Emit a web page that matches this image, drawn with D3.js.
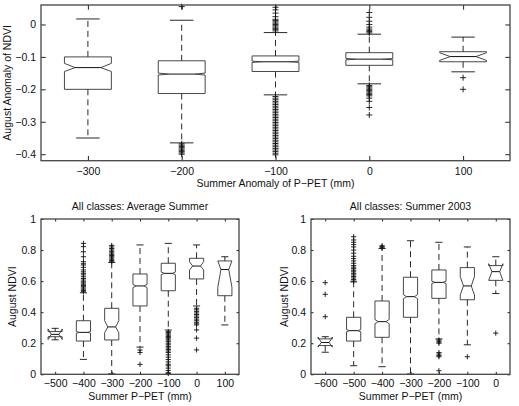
<!DOCTYPE html>
<html>
<head>
<meta charset="utf-8">
<script src="https://cdn.jsdelivr.net/npm/d3@7"></script>
<style>
body { margin: 0; background: #fff; }
svg { display: block; font-family: "Liberation Sans", Arial, sans-serif; }
</style>
</head>
<body>
<div id="chart"></div>
<script>
// top panel: August NDVI anomaly vs summer P-PET anomaly
var topPositions = [-300, -200, -100, 0, 100];
var topQ1 = [-0.200, -0.213, -0.145, -0.126, -0.115];
var topMedian = [-0.133, -0.153, -0.115, -0.107, -0.099];
var topQ3 = [-0.100, -0.112, -0.097, -0.087, -0.084];
var topNotchLo = [-0.145, -0.156, -0.117, -0.109, -0.111];
var topNotchHi = [-0.120, -0.150, -0.113, -0.105, -0.087];
var topWhiskerLo = [-0.350, -0.365, -0.217, -0.183, -0.146];
var topWhiskerHi = [0.017, 0.013, -0.025, -0.030, -0.039];
var topOutliers = [
    [],
    [0.055, -0.368, -0.372, -0.376, -0.380, -0.384, -0.388, -0.392, -0.396, -0.400],
    [0.053, 0.045, 0.035, 0.024, 0.016, 0.012, 0.008, 0.004, 0.000, -0.004, -0.008, -0.012, -0.016, -0.020,
     -0.222, -0.227, -0.232, -0.237, -0.242, -0.247, -0.252, -0.257, -0.262, -0.267, -0.272, -0.277,
     -0.282, -0.287, -0.292, -0.297, -0.302, -0.307, -0.312, -0.317, -0.322, -0.327, -0.332, -0.337,
     -0.342, -0.347, -0.352, -0.357, -0.362, -0.367, -0.372, -0.377, -0.382, -0.387, -0.392, -0.397, -0.402],
    [0.037, 0.022, 0.010, 0.000, -0.008, -0.014, -0.018, -0.022, -0.026,
     -0.188, -0.192, -0.196, -0.200, -0.204, -0.208, -0.212, -0.216, -0.220, -0.227, -0.237, -0.256, -0.279],
    [-0.164, -0.200]
];
var topXTicks = [-300, -200, -100, 0, 100];
var topYTicks = [-0.4, -0.3, -0.2, -0.1, 0];

// bottom left: average summer
var avgPositions = [-500, -400, -300, -200, -100, 0, 100];
var avgQ1 = [0.242, 0.214, 0.221, 0.440, 0.538, 0.614, 0.506];
var avgMedian = [0.257, 0.270, 0.305, 0.569, 0.650, 0.697, 0.675];
var avgQ3 = [0.275, 0.345, 0.425, 0.646, 0.715, 0.747, 0.730];
var avgNotchLo = [0.224, 0.265, 0.268, 0.559, 0.642, 0.672, 0.560];
var avgNotchHi = [0.292, 0.275, 0.345, 0.579, 0.658, 0.725, 0.730];
var avgWhiskerLo = [0.222, 0.096, 0.003, 0.175, 0.285, 0.440, 0.318];
var avgWhiskerHi = [0.296, 0.525, 0.720, 0.833, 0.843, 0.833, 0.757];
var avgOutliers = [
    [],
    [0.532, 0.540, 0.548, 0.556, 0.564, 0.572, 0.580, 0.588, 0.596, 0.607, 0.617, 0.628, 0.640, 0.650,
     0.660, 0.672, 0.689, 0.704, 0.712, 0.725, 0.757, 0.789, 0.822, 0.843],
    [0.725, 0.733, 0.741, 0.749, 0.757, 0.765, 0.773, 0.781, 0.790, 0.800, 0.810, 0.820, 0.830],
    [0.156, 0.140, 0.064],
    [0.275, 0.268, 0.260, 0.252, 0.244, 0.236, 0.228, 0.220, 0.210, 0.200, 0.190, 0.180, 0.170, 0.160,
     0.150, 0.140, 0.125, 0.110, 0.095, 0.080, 0.065, 0.055, 0.040, 0.025, 0.010, 0.005],
    [0.425, 0.415, 0.405, 0.395, 0.385, 0.375, 0.365, 0.355, 0.345, 0.335, 0.325, 0.318, 0.286, 0.233, 0.157],
    []
];
var avgXTicks = [-500, -400, -300, -200, -100, 0, 100];

// bottom right: summer 2003
var s03Positions = [-600, -500, -400, -300, -200, -100, 0];
var s03Q1 = [0.185, 0.214, 0.238, 0.367, 0.489, 0.480, 0.605];
var s03Median = [0.205, 0.281, 0.339, 0.500, 0.592, 0.569, 0.661];
var s03Q3 = [0.228, 0.367, 0.472, 0.625, 0.672, 0.687, 0.700];
var s03NotchLo = [0.175, 0.274, 0.325, 0.487, 0.585, 0.511, 0.605];
var s03NotchHi = [0.240, 0.288, 0.353, 0.513, 0.599, 0.629, 0.712];
var s03WhiskerLo = [0.142, 0.055, 0.049, 0.002, 0.228, 0.190, 0.520];
var s03WhiskerHi = [0.242, 0.595, 0.810, 0.860, 0.850, 0.820, 0.757];
var s03Outliers = [
    [0.590, 0.515, 0.371],
    [0.600, 0.610, 0.620, 0.630, 0.640, 0.650, 0.660, 0.670, 0.680, 0.690, 0.700, 0.715, 0.730, 0.745,
     0.760, 0.780, 0.800, 0.820, 0.835, 0.850, 0.865, 0.886],
    [0.815, 0.822, 0.828],
    [],
    [0.221, 0.214, 0.207, 0.200, 0.140, 0.130, 0.120, 0.113, 0.023],
    [0.113],
    [0.265]
];
var s03XTicks = [-600, -500, -400, -300, -200, -100, 0];
var ndviTicks = [0, 0.2, 0.4, 0.6, 0.8, 1];

var svg = d3.select("#chart").append("svg")
    .attr("width", 519)
    .attr("height", 406);

var fontSize = 10.5;
var fmt = d3.format("");

function makeBoxes(pos, q1, med, q3, nlo, nhi, wlo, whi, outl) {
    return pos.map(function (p, i) {
        return {pos: p, q1: q1[i], med: med[i], q3: q3[i], nlo: nlo[i], nhi: nhi[i],
                wlo: wlo[i], whi: whi[i], out: outl[i]};
    });
}

function drawPanel(o) {
    var g = svg.append("g");
    var x = d3.scaleLinear().domain(o.xDomain).range([o.left, o.right]);
    var y = d3.scaleLinear().domain(o.yDomain).range([o.bottom, o.top]);
    var hw = (x(o.boxWidth) - x(0)) / 2;
    var inset = hw * 0.45;

    // axes with inner ticks on all four sides
    function styleAxis(a) {
        a.select(".domain").remove();
        a.attr("font-size", fontSize).attr("font-family", null);
        a.selectAll(".tick line").attr("stroke", "#222");
        a.selectAll(".tick text").attr("fill", "#111");
    }
    g.append("g").attr("transform", "translate(0," + o.bottom + ")")
        .call(d3.axisBottom(x).tickValues(o.xTicks).tickSizeInner(-o.tickLen).tickSizeOuter(0)
            .tickPadding(o.xPad).tickFormat(fmt))
        .call(styleAxis);
    g.append("g").attr("transform", "translate(0," + o.top + ")")
        .call(d3.axisTop(x).tickValues(o.xTicks).tickSizeInner(-o.tickLen).tickSizeOuter(0).tickFormat(""))
        .call(styleAxis);
    g.append("g").attr("transform", "translate(" + o.left + ",0)")
        .call(d3.axisLeft(y).tickValues(o.yTicks).tickSizeInner(-o.tickLen).tickSizeOuter(0)
            .tickPadding(5).tickFormat(fmt))
        .call(styleAxis);
    g.append("g").attr("transform", "translate(" + o.right + ",0)")
        .call(d3.axisRight(y).tickValues(o.yTicks).tickSizeInner(-o.tickLen).tickSizeOuter(0).tickFormat(""))
        .call(styleAxis);

    var boxes = g.selectAll(".bx").data(o.boxes).enter().append("g").attr("class", "bx");

    // whiskers (dashed)
    boxes.append("line")
        .attr("x1", function (d) { return x(d.pos); })
        .attr("x2", function (d) { return x(d.pos); })
        .attr("y1", function (d) { return y(d.q3); })
        .attr("y2", function (d) { return y(d.whi); })
        .attr("stroke", "#111").attr("stroke-width", 0.9).attr("stroke-dasharray", "6,4");
    boxes.append("line")
        .attr("x1", function (d) { return x(d.pos); })
        .attr("x2", function (d) { return x(d.pos); })
        .attr("y1", function (d) { return y(d.q1); })
        .attr("y2", function (d) { return y(d.wlo); })
        .attr("stroke", "#111").attr("stroke-width", 0.9).attr("stroke-dasharray", "6,4");

    // whisker caps
    ["whi", "wlo"].forEach(function (k) {
        boxes.append("line")
            .attr("x1", function (d) { return x(d.pos) - hw / 2; })
            .attr("x2", function (d) { return x(d.pos) + hw / 2; })
            .attr("y1", function (d) { return y(d[k]); })
            .attr("y2", function (d) { return y(d[k]); })
            .attr("stroke", "#111").attr("stroke-width", 0.9);
    });

    // notched box outline
    boxes.append("path")
        .attr("d", function (d) {
            var xl = x(d.pos) - hw, xr = x(d.pos) + hw;
            var pts = [[xl, y(d.q1)], [xl, y(d.nlo)], [xl + inset, y(d.med)], [xl, y(d.nhi)], [xl, y(d.q3)],
                       [xr, y(d.q3)], [xr, y(d.nhi)], [xr - inset, y(d.med)], [xr, y(d.nlo)], [xr, y(d.q1)]];
            return d3.line()(pts) + "Z";
        })
        .attr("fill", "none").attr("stroke", "#333").attr("stroke-width", 0.9);

    // median
    boxes.append("line")
        .attr("x1", function (d) { return x(d.pos) - hw + inset; })
        .attr("x2", function (d) { return x(d.pos) + hw - inset; })
        .attr("y1", function (d) { return y(d.med); })
        .attr("y2", function (d) { return y(d.med); })
        .attr("stroke", "#111").attr("stroke-width", 1);

    // outliers as plus marks
    var s = o.plus;
    boxes.append("path")
        .attr("d", function (d) {
            var cx = x(d.pos);
            return d.out.map(function (v) {
                var cy = y(v);
                return "M" + (cx - s) + "," + cy + "H" + (cx + s) + "M" + cx + "," + (cy - s) + "V" + (cy + s);
            }).join("");
        })
        .attr("fill", "none").attr("stroke", "#111").attr("stroke-width", 0.9);

    // frame
    g.append("rect")
        .attr("x", o.left).attr("y", o.top)
        .attr("width", o.right - o.left).attr("height", o.bottom - o.top)
        .attr("fill", "none").attr("stroke", "#444").attr("stroke-width", 1.3);

    // labels
    var cxm = (o.left + o.right) / 2;
    g.append("text").attr("x", cxm).attr("y", o.xLabelY)
        .attr("text-anchor", "middle").attr("font-size", fontSize).attr("fill", "#111")
        .text(o.xLabel);
    g.append("text")
        .attr("transform", "translate(" + o.yLabelX + "," + ((o.top + o.bottom) / 2) + ") rotate(-90)")
        .attr("text-anchor", "middle").attr("font-size", fontSize).attr("fill", "#111")
        .text(o.yLabel);
    if (o.title) {
        g.append("text").attr("x", cxm).attr("y", o.titleY)
            .attr("text-anchor", "middle").attr("font-size", fontSize).attr("fill", "#111")
            .text(o.title);
    }
}

drawPanel({
    left: 41, right: 510, top: 5, bottom: 160.7,
    xDomain: [-350, 150], yDomain: [-0.42, 0.06],
    xTicks: topXTicks, yTicks: topYTicks, tickLen: 4.7, xPad: 6.5,
    boxWidth: 50, plus: 3,
    boxes: makeBoxes(topPositions, topQ1, topMedian, topQ3, topNotchLo, topNotchHi, topWhiskerLo, topWhiskerHi, topOutliers),
    xLabel: "Summer Anomaly of P\u2212PET (mm)", xLabelY: 186.5,
    yLabel: "August Anomaly of NDVI", yLabelX: 10.8
});

drawPanel({
    left: 41, right: 239, top: 219, bottom: 374.3,
    xDomain: [-550, 150], yDomain: [0, 1],
    xTicks: avgXTicks, yTicks: ndviTicks, tickLen: 2.5, xPad: 5.7,
    boxWidth: 50, plus: 2.6,
    boxes: makeBoxes(avgPositions, avgQ1, avgMedian, avgQ3, avgNotchLo, avgNotchHi, avgWhiskerLo, avgWhiskerHi, avgOutliers),
    xLabel: "Summer P\u2212PET (mm)", xLabelY: 400.3,
    yLabel: "August NDVI", yLabelX: 15.8,
    title: "All classes: Average Summer", titleY: 210.2
});

drawPanel({
    left: 311, right: 510, top: 219, bottom: 374.3,
    xDomain: [-650, 50], yDomain: [0, 1],
    xTicks: s03XTicks, yTicks: ndviTicks, tickLen: 2.5, xPad: 5.7,
    boxWidth: 50, plus: 2.6,
    boxes: makeBoxes(s03Positions, s03Q1, s03Median, s03Q3, s03NotchLo, s03NotchHi, s03WhiskerLo, s03WhiskerHi, s03Outliers),
    xLabel: "Summer P\u2212PET (mm)", xLabelY: 400.3,
    yLabel: "August NDVI", yLabelX: 287.5,
    title: "All classes: Summer 2003", titleY: 210.2
});
</script>
</body>
</html>
